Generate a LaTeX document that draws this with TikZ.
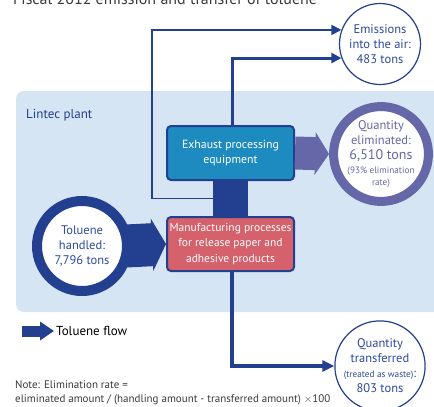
\documentclass[tikz,border=0pt]{standalone}
\usepackage{fontspec}
\setmainfont{PT Sans}
\usetikzlibrary{arrows.meta,calc}

\begin{document}
\begin{tikzpicture}[x=1pt, y=-1pt,
    ring/.style={circle, draw=#1, fill=white, inner sep=0pt, align=center},
    procbox/.style={rectangle, rounded corners=4pt, draw=darkBlue, line width=2pt,
        minimum width=127pt, minimum height=54pt, inner sep=0pt, align=center, text=white},
    thinflow/.style={draw=darkBlue, -{Triangle[length=10pt,width=10pt]}},
    bigflow/.style={line cap=butt}]
    \definecolor{darkBlue}{HTML}{233F8F}
    \definecolor{plantBg}{HTML}{D6E5F4}
    \definecolor{exhFill}{HTML}{1E8BC0}
    \definecolor{mfgFill}{HTML}{D4616B}
    \definecolor{elimPurple}{HTML}{6567A9}
    \definecolor{ringText}{HTML}{2D4A9C}
    \definecolor{noteGray}{HTML}{3A3A3A}

    \def\ringFont{\fontsize{12.5}{15}\selectfont}
    \def\smallFont{\fontsize{9.2}{10}\selectfont}

    \useasboundingbox (0,0) rectangle (434,407);

    % Title (cut at the top)
    \node[anchor=base west, inner sep=0pt, text=noteGray, font=\fontsize{16}{16}\selectfont]
        (title) at (13,4) {Fiscal 2012 emission and transfer of toluene};

    % Plant area
    \fill[plantBg, rounded corners=8pt] (16,91) rectangle (460,312);
    \node[anchor=west, inner sep=0pt, text=darkBlue, font=\fontsize{13}{13}\selectfont]
        (plant) at (26,115) {Lintec plant};

    % Processes
    \node[procbox, fill=exhFill, font=\fontsize{11.8}{15.5}\selectfont]
        (exh) at (230.5,153) {Exhaust processing\\equipment};
    \node[procbox, fill=mfgFill, font=\fontsize{11.5}{15.5}\selectfont]
        (mfg) at (230.5,244) {Manufacturing processes\\for release paper and\\adhesive products};

    % Amounts
    \node[ring=darkBlue, line width=10pt, minimum size=90pt, text=ringText, font=\ringFont]
        (hand) at (82,246) {Toluene\\handled:\\7,796 tons};
    \node[ring=darkBlue, line width=1.2pt, minimum size=81pt, text=ringText, font=\ringFont]
        (emis) at (380,44) {Emissions\\into the air:\\483 tons};
    \node[ring=elimPurple, line width=9pt, minimum size=89pt, text=elimPurple, font=\ringFont]
        (elim) at (381,154) {Quantity\\eliminated:\\{\fontsize{14}{14}\selectfont 6,510 tons}\\[-1pt]
        {\smallFont (93\% elimination}\\[-3pt]{\smallFont rate)}};
    \node[ring=darkBlue, line width=1.2pt, minimum size=81pt, text=ringText, font=\ringFont]
        (trans) at (380,366) {Quantity\\transferred\\{\smallFont (treated as waste)}:\\803 tons};

    % Toluene flow
    \draw[bigflow, darkBlue, line width=43pt, -{Triangle[length=14pt,width=52pt]}]
        ([xshift=-6pt]hand.east) -- (mfg.west);
    \draw[bigflow, darkBlue, line width=35pt] (exh.south) -- (mfg.north);
    \draw[bigflow, elimPurple, line width=33pt, -{Triangle[length=14pt,width=42pt]}]
        (exh.east) -- (elim.west);

    % Emissions and transfer
    \coordinate (byp) at ([xshift=-17.5pt]$(exh.south)!.5!(mfg.north)$);
    \draw[thinflow, line width=1.8pt] (byp) -- ++(-61,0) |- (emis.160);
    \draw[thinflow, line width=3pt] ([xshift=1.5pt]exh.north) |- (emis.200);
    \draw[thinflow, line width=4.5pt, -{Triangle[length=12pt,width=11pt]}]
        ([xshift=1.5pt]mfg.south) |- (trans.west);

    % Legend
    \coordinate (legA) at (22,331);
    \coordinate (legB) at (54,331);
    \draw[bigflow, darkBlue, line width=11pt, -{Triangle[length=14pt,width=18pt]}] (legA) -- (legB);
    \node[anchor=west, inner sep=0pt, font=\fontsize{13}{13}\selectfont]
        (legend) at (56,331) {Toluene flow};

    % Note
    \node[anchor=north west, inner sep=0pt, align=left, text=noteGray,
        font=\fontsize{11}{14}\selectfont]
        (note) at (15,380) {Note: Elimination rate =\\eliminated amount / (handling amount - transferred amount) $\times$100};
\end{tikzpicture}
\end{document}
